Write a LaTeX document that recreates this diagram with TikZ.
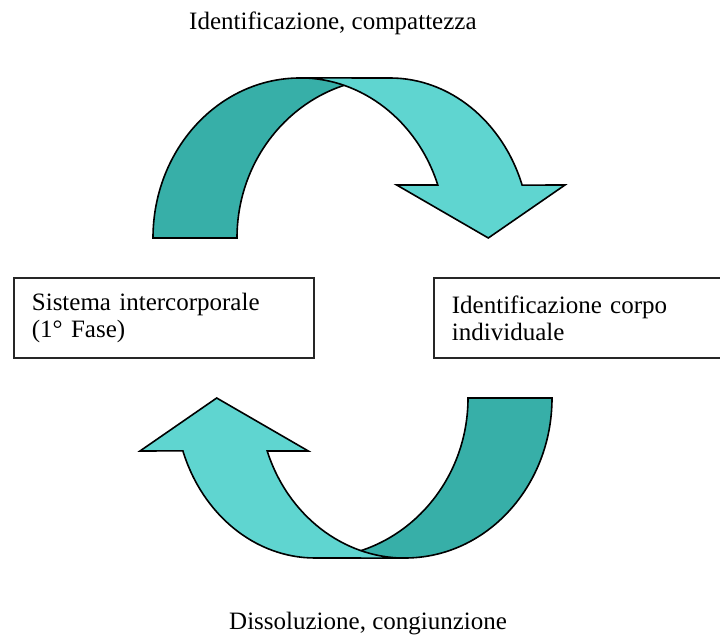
\documentclass[tikz,border=0pt]{standalone}
\usepackage{fontspec}
\setmainfont{Liberation Serif}
\definecolor{tealdark}{RGB}{55,175,168}
\definecolor{teallight}{RGB}{95,213,208}
\newcommand{\cyclearrow}{%
  \filldraw[bandline, fill=tealdark]
    (153,399) arc[start angle=180, end angle=90, x radius=147, y radius=160]
    -- (390,559) arc[start angle=90, end angle=180, x radius=153, y radius=160]
    -- cycle;
  \filldraw[bandline, fill=teallight]
    (300,559.1) -- (390,559)
    arc[start angle=90, end angle=19.3, x radius=140, y radius=160]
    -- (565,452) -- (488.3,399) -- (396.7,452) -- (437.8,452)
    arc[start angle=19.3, end angle=90, x radius=146, y radius=160]
    -- cycle;
}
\begin{document}
\begin{tikzpicture}[x=1pt, y=1pt,
  bandline/.style={draw=black, line width=1.6pt, line join=miter},
  labeltext/.style={font=\fontsize{25}{27}\selectfont, inner sep=0pt, anchor=base west},
  textbox/.style={draw=black!85, line width=1.8pt, minimum height=80pt, inner xsep=18pt,
    inner ysep=0pt, align=left, font=\fontsize{25}{27}\selectfont, anchor=west}]
\useasboundingbox (0,0) rectangle (720,637);
\clip (0,0) rectangle (720,637);
\fill[white] (0,0) rectangle (720,637);
% top arrow
\cyclearrow
% bottom arrow (rotated copy)
\begin{scope}[rotate around={180:(352.5,319)}]
\cyclearrow
\end{scope}
% boxes
\node[textbox, text width=264pt] (sys) at (13,319) {Sistema intercorporale\\(1° Fase)};
\node[textbox, text width=261pt] (ind) at (433,319) {Identificazione corpo\\individuale};
% labels
\node[labeltext] (top) at (189,607) {Identificazione, compattezza};
\node[labeltext] (bot) at (229,7) {Dissoluzione, congiunzione};
\end{tikzpicture}
\end{document}
